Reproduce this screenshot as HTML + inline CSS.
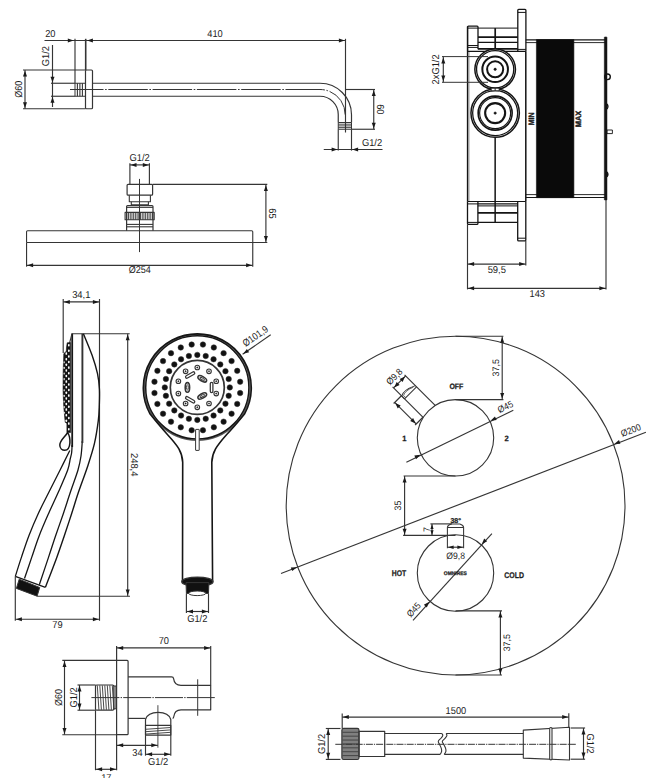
<!DOCTYPE html>
<html lang="en"><head><meta charset="utf-8"><title>Technical drawing</title>
<style>
html,body{margin:0;padding:0;background:#fff;}
body{width:652px;height:778px;overflow:hidden;}
svg{display:block;font-family:"Liberation Sans",sans-serif;text-rendering:geometricPrecision;}
text{fill:#1c1c1c;stroke:none}
text.b{font-weight:bold;stroke:#1c1c1c;stroke-width:.25px}
</style></head><body>
<svg width="652" height="778" viewBox="0 0 652 778" fill="none" stroke="#353535" stroke-linecap="butt" stroke-linejoin="round">
<rect x="0" y="0" width="652" height="778" fill="#fff" stroke="none"/>
<g>
<!-- shower arm -->
<line x1="44.5" y1="40.5" x2="345.5" y2="40.5" stroke-width="1.15"/>
<polygon points="73.6,40.5 67.8,42.5 67.8,38.5" fill="#1a1a1a" stroke="none"/>
<polygon points="87.1,40.5 92.9,38.5 92.9,42.5" fill="#1a1a1a" stroke="none"/>
<polygon points="344.7,40.5 338.9,42.5 338.9,38.5" fill="#1a1a1a" stroke="none"/>
<line x1="75" y1="38.8" x2="75" y2="83.2" stroke-width="1.15"/>
<line x1="85.7" y1="38.8" x2="85.7" y2="70" stroke-width="1.6"/>
<line x1="345.5" y1="38.8" x2="345.5" y2="132.5" stroke-width="1.15"/>
<text transform="translate(50.3 33.6)" y="3.6" font-size="10" text-anchor="middle" textLength="10.32" lengthAdjust="spacingAndGlyphs">20</text>
<text transform="translate(215 33.6)" y="3.6" font-size="10" text-anchor="middle" textLength="15.48" lengthAdjust="spacingAndGlyphs">410</text>
<rect x="85.5" y="70" width="7" height="38.75" rx="1" stroke-width="1.2" fill="none"/>
<rect x="75" y="83.25" width="10.5" height="13" rx="0" stroke-width="1" fill="none"/>
<line x1="77.4" y1="83.25" x2="77.4" y2="96.25" stroke-width="1.1"/>
<line x1="79.9" y1="83.25" x2="79.9" y2="96.25" stroke-width="1.1"/>
<line x1="82.4" y1="83.25" x2="82.4" y2="96.25" stroke-width="1.1"/>
<path d="M92.5 83.25H320A31.5 31.5 0 0 1 351.5 114.75V122.5" stroke-width="1.2" fill="none"/>
<path d="M92.5 96.25H320A18.25 18.25 0 0 1 338.25 114.5V122.5" stroke-width="1.2" fill="none"/>
<rect x="338.25" y="122.5" width="13.25" height="6.75" rx="0" stroke-width="1" fill="none"/>
<line x1="338.25" y1="124.2" x2="351.5" y2="124.2" stroke-width="0.9"/>
<line x1="338.25" y1="125.9" x2="351.5" y2="125.9" stroke-width="0.9"/>
<line x1="338.25" y1="127.6" x2="351.5" y2="127.6" stroke-width="0.9"/>
<path d="M70 89.5H320A25.2 25.2 0 0 1 345.2 114.7" stroke-width="1" fill="none" stroke-dasharray="39.5 1.6 1.6 1.6" stroke-dashoffset="6"/>
<line x1="345.5" y1="89.5" x2="375" y2="89.5" stroke-width="1.15"/>
<line x1="373.75" y1="89.5" x2="373.75" y2="129.25" stroke-width="1.15"/>
<polygon points="373.75,90.3 375.75,96.1 371.75,96.1" fill="#1a1a1a" stroke="none"/>
<polygon points="373.75,128.45 371.75,122.65 375.75,122.65" fill="#1a1a1a" stroke="none"/>
<line x1="351.5" y1="129.25" x2="375" y2="129.25" stroke-width="1.15"/>
<text transform="translate(380.7 109.3) rotate(90)" y="3.6" font-size="10" text-anchor="middle" textLength="10.32" lengthAdjust="spacingAndGlyphs">60</text>
<line x1="338.25" y1="129.25" x2="338.25" y2="150.6" stroke-width="1.15"/>
<line x1="351.5" y1="129.25" x2="351.5" y2="150.6" stroke-width="1.15"/>
<line x1="323.75" y1="149.5" x2="382.5" y2="149.5" stroke-width="1.15"/>
<polygon points="337.45,149.5 331.65,151.5 331.65,147.5" fill="#1a1a1a" stroke="none"/>
<polygon points="352.3,149.5 358.1,147.5 358.1,151.5" fill="#1a1a1a" stroke="none"/>
<text x="372" y="145.7" font-size="10" text-anchor="middle" textLength="20.23" lengthAdjust="spacingAndGlyphs">G1/2</text>
<line x1="23" y1="70" x2="85.5" y2="70" stroke-width="1.15"/>
<line x1="23" y1="108.75" x2="85.5" y2="108.75" stroke-width="1.15"/>
<line x1="25" y1="70" x2="25" y2="108.75" stroke-width="1.15"/>
<polygon points="25,70.8 27,76.6 23,76.6" fill="#1a1a1a" stroke="none"/>
<polygon points="25,107.95 23,102.15 27,102.15" fill="#1a1a1a" stroke="none"/>
<text transform="translate(18 89.3) rotate(-90)" y="3.6" font-size="10" text-anchor="middle" textLength="17.01" lengthAdjust="spacingAndGlyphs">Ø60</text>
<line x1="52.5" y1="45" x2="52.5" y2="107" stroke-width="1.15"/>
<polygon points="52.5,82.45 50.5,76.65 54.5,76.65" fill="#1a1a1a" stroke="none"/>
<polygon points="52.5,97.05 54.5,102.85 50.5,102.85" fill="#1a1a1a" stroke="none"/>
<line x1="51" y1="83.25" x2="75" y2="83.25" stroke-width="1.15"/>
<line x1="51" y1="96.25" x2="75" y2="96.25" stroke-width="1.15"/>
<text transform="translate(45.7 56.2) rotate(-90)" y="3.6" font-size="10" text-anchor="middle" textLength="20.23" lengthAdjust="spacingAndGlyphs">G1/2</text>
<!-- rain head -->
<text x="139.6" y="160.6" font-size="10" text-anchor="middle" textLength="20.23" lengthAdjust="spacingAndGlyphs">G1/2</text>
<line x1="129.9" y1="163.3" x2="129.9" y2="184.3" stroke-width="1.15"/>
<line x1="149.4" y1="163.3" x2="149.4" y2="184.3" stroke-width="1.15"/>
<line x1="129.9" y1="164.9" x2="149.4" y2="164.9" stroke-width="1.15"/>
<polygon points="130.7,164.9 136.5,162.9 136.5,166.9" fill="#1a1a1a" stroke="none"/>
<polygon points="148.6,164.9 142.8,166.9 142.8,162.9" fill="#1a1a1a" stroke="none"/>
<rect x="127.1" y="184.3" width="25.5" height="10.9" rx="1" stroke-width="1.2" fill="none"/>
<path d="M129.3 195.2V201.8H150.4V195.2" stroke-width="1.1" fill="none"/>
<path d="M131.3 201.8V204.8H148.4V201.8" stroke-width="1.1" fill="none"/>
<path d="M126.6 230.7V206.6Q126.6 205.6 127.6 205.6H152Q153 205.6 153 206.6V230.7" stroke-width="1.2" fill="none"/>
<line x1="126.6" y1="207.4" x2="153" y2="207.4" stroke-width="1"/>
<rect x="125.1" y="212.4" width="29.1" height="7.4" rx="0" stroke-width="1.1" fill="none"/>
<line x1="126.81" y1="212.4" x2="126.81" y2="219.8" stroke-width="0.9"/>
<line x1="128.52" y1="212.4" x2="128.52" y2="219.8" stroke-width="0.9"/>
<line x1="130.24" y1="212.4" x2="130.24" y2="219.8" stroke-width="0.9"/>
<line x1="131.95" y1="212.4" x2="131.95" y2="219.8" stroke-width="0.9"/>
<line x1="133.66" y1="212.4" x2="133.66" y2="219.8" stroke-width="0.9"/>
<line x1="135.37" y1="212.4" x2="135.37" y2="219.8" stroke-width="0.9"/>
<line x1="137.08" y1="212.4" x2="137.08" y2="219.8" stroke-width="0.9"/>
<line x1="138.79" y1="212.4" x2="138.79" y2="219.8" stroke-width="0.9"/>
<line x1="140.51" y1="212.4" x2="140.51" y2="219.8" stroke-width="0.9"/>
<line x1="142.22" y1="212.4" x2="142.22" y2="219.8" stroke-width="0.9"/>
<line x1="143.93" y1="212.4" x2="143.93" y2="219.8" stroke-width="0.9"/>
<line x1="145.64" y1="212.4" x2="145.64" y2="219.8" stroke-width="0.9"/>
<line x1="147.35" y1="212.4" x2="147.35" y2="219.8" stroke-width="0.9"/>
<line x1="149.06" y1="212.4" x2="149.06" y2="219.8" stroke-width="0.9"/>
<line x1="150.78" y1="212.4" x2="150.78" y2="219.8" stroke-width="0.9"/>
<line x1="152.49" y1="212.4" x2="152.49" y2="219.8" stroke-width="0.9"/>
<line x1="126.6" y1="224.4" x2="153" y2="224.4" stroke-width="1.1"/>
<line x1="126.6" y1="226.8" x2="153" y2="226.8" stroke-width="1.1"/>
<line x1="139.5" y1="178.9" x2="139.5" y2="252.1" stroke-width="1"/>
<path d="M26.55 242.5V231.8Q26.55 230.7 27.6 230.7H251.7Q252.75 230.7 252.75 231.8V242.5" stroke-width="1.1" fill="none"/>
<line x1="26.55" y1="242.5" x2="267.3" y2="242.5" stroke-width="1.1"/>
<line x1="152.6" y1="184.4" x2="267.3" y2="184.4" stroke-width="1.15"/>
<line x1="265.9" y1="184.4" x2="265.9" y2="242.5" stroke-width="1.15"/>
<polygon points="265.9,185.2 267.9,191 263.9,191" fill="#1a1a1a" stroke="none"/>
<polygon points="265.9,241.7 263.9,235.9 267.9,235.9" fill="#1a1a1a" stroke="none"/>
<text transform="translate(273.1 213.5) rotate(90)" y="3.6" font-size="10" text-anchor="middle" textLength="10.32" lengthAdjust="spacingAndGlyphs">65</text>
<line x1="26.55" y1="242.5" x2="26.55" y2="266.7" stroke-width="1.15"/>
<line x1="252.75" y1="242.5" x2="252.75" y2="266.7" stroke-width="1.15"/>
<line x1="26.55" y1="265.3" x2="252.75" y2="265.3" stroke-width="1.15"/>
<polygon points="27.35,265.3 33.15,263.3 33.15,267.3" fill="#1a1a1a" stroke="none"/>
<polygon points="251.95,265.3 246.15,267.3 246.15,263.3" fill="#1a1a1a" stroke="none"/>
<text x="139.8" y="273.2" font-size="10" text-anchor="middle" textLength="22.17" lengthAdjust="spacingAndGlyphs">Ø254</text>
<!-- valve body -->
<g stroke="#141414">
<path d="M517.8 51.5V10.2Q517.8 9.3 518.7 9.3H525Q525.9 9.3 525.9 10.2V51.5" stroke-width="1.3" fill="none"/>
<line x1="517.8" y1="12.4" x2="525.9" y2="12.4" stroke-width="1"/>
<line x1="517.8" y1="49.4" x2="525.9" y2="49.4" stroke-width="1"/>
<path d="M467.6 51.4V27.1Q467.6 26.2 468.5 26.2H477.1Q478 26.2 478 27.1V49.2" stroke-width="1.3" fill="none"/>
<line x1="467.6" y1="28.1" x2="478" y2="28.1" stroke-width="1"/>
<line x1="467.6" y1="45.5" x2="478" y2="45.5" stroke-width="1"/>
<line x1="467.6" y1="47.4" x2="478" y2="47.4" stroke-width="1"/>
<line x1="478" y1="28.1" x2="517.8" y2="28.1" stroke-width="1"/>
<line x1="478" y1="37.1" x2="517.8" y2="37.1" stroke-width="1.7"/>
<line x1="478" y1="42.4" x2="517.8" y2="42.4" stroke-width="1.2"/>
<line x1="478" y1="48.9" x2="517.8" y2="48.9" stroke-width="1.8"/>
<line x1="495.2" y1="28.1" x2="495.2" y2="49.4" stroke-width="1.7"/>
<line x1="467.6" y1="51.4" x2="525.9" y2="51.4" stroke-width="1.2"/>
<line x1="467.5" y1="26.4" x2="467.5" y2="201.5" stroke-width="1.3"/>
<line x1="468.9" y1="51.4" x2="468.9" y2="201.5" stroke-width="0.5"/>
<line x1="525.8" y1="51.4" x2="525.8" y2="201.5" stroke-width="1.5"/>
<circle cx="495.15" cy="69.3" r="20.3" stroke-width="1.5" fill="#fff"/>
<circle cx="495.15" cy="69.3" r="18.6" stroke-width="1.3" fill="none"/>
<line x1="442" y1="56.6" x2="488" y2="56.6" stroke-width="1" stroke="#353535"/>
<line x1="442" y1="82.3" x2="488" y2="82.3" stroke-width="1" stroke="#353535"/>
<circle cx="495.15" cy="69.3" r="12.8" stroke-width="2" fill="none"/>
<circle cx="495.15" cy="69.3" r="8.05" stroke-width="2" fill="none"/>
<circle cx="495.15" cy="69.3" r="1.2" stroke-width="0.5" fill="#141414"/>
<circle cx="495.15" cy="113.1" r="24.2" stroke-width="1.5" fill="#fff"/>
<circle cx="495.15" cy="113.1" r="22.5" stroke-width="1.3" fill="none"/>
<circle cx="495.15" cy="113.1" r="17" stroke-width="1.6" fill="none"/>
<circle cx="495.15" cy="113.1" r="15.5" stroke-width="1.1" fill="none"/>
<circle cx="495.15" cy="113.1" r="10" stroke-width="2.1" fill="none"/>
<circle cx="495.15" cy="113.1" r="1.2" stroke-width="0.5" fill="#141414"/>
<rect x="491.2" y="88.2" width="8" height="2.6" rx="0" stroke-width="0.9" fill="#fff"/>
<line x1="495.15" y1="88.2" x2="495.15" y2="90.8" stroke-width="0.9"/>
<line x1="495.15" y1="137.4" x2="495.15" y2="222.3" stroke-width="1.5"/>
</g>
<line x1="443.3" y1="56.6" x2="443.3" y2="82.3" stroke-width="1.15"/>
<polygon points="443.3,57.6 445.3,63.4 441.3,63.4" fill="#1a1a1a" stroke="none"/>
<polygon points="443.3,81.3 441.3,75.5 445.3,75.5" fill="#1a1a1a" stroke="none"/>
<text transform="translate(435.7 69.4) rotate(-90)" y="3.6" font-size="10" text-anchor="middle" textLength="30.07" lengthAdjust="spacingAndGlyphs">2xG1/2</text>
<g stroke="#141414">
<line x1="525.8" y1="39.9" x2="605" y2="39.9" stroke-width="1.2"/>
<line x1="525.8" y1="42.6" x2="605" y2="42.6" stroke-width="0.9"/>
<line x1="525.8" y1="194.6" x2="605" y2="194.6" stroke-width="0.9"/>
<line x1="525.8" y1="197.5" x2="605" y2="197.5" stroke-width="1.2"/>
<rect x="536.4" y="39.5" width="37.5" height="158.2" rx="0" stroke-width="0.6" fill="#0a0a0a"/>
<rect x="604.3" y="36.9" width="2.7" height="163.2" rx="0.6" stroke-width="0.5" fill="#141414"/>
<circle cx="607.5" cy="76.8" r="2.8" stroke-width="1.4" fill="none"/>
<path d="M607 104Q608.8 106.5 607 109" stroke-width="1.4" fill="none"/>
<path d="M607 171.8Q608.8 174.3 607 176.8" stroke-width="1.4" fill="none"/>
<rect x="607" y="130" width="5.4" height="3.6" rx="0" stroke-width="0.9" fill="none"/>
<line x1="467.5" y1="201.5" x2="525.8" y2="201.5" stroke-width="1.2"/>
<path d="M467.5 201.5V223.4Q467.5 224.3 468.5 224.3H476.9Q477.9 224.3 477.9 223.4V201.5" stroke-width="1.3" fill="none"/>
<line x1="467.5" y1="203.9" x2="477.9" y2="203.9" stroke-width="1"/>
<line x1="467.5" y1="222.4" x2="477.9" y2="222.4" stroke-width="1"/>
<line x1="477.9" y1="203.9" x2="517.7" y2="203.9" stroke-width="1.4"/>
<line x1="477.9" y1="205.9" x2="517.7" y2="205.9" stroke-width="1"/>
<line x1="477.9" y1="212.9" x2="517.7" y2="212.9" stroke-width="1.7"/>
<line x1="477.9" y1="222.3" x2="517.7" y2="222.3" stroke-width="1.3"/>
<path d="M517.7 201.5V239.9Q517.7 240.8 518.7 240.8H524.8Q525.8 240.8 525.8 239.9V201.5" stroke-width="1.3" fill="none"/>
<line x1="517.7" y1="238.2" x2="525.8" y2="238.2" stroke-width="1"/>
</g>
<text transform="translate(531.2 118.9) rotate(-90)" y="2.81" font-size="7.8" text-anchor="middle" class="b" style="stroke-width:.4px" textLength="12.8" lengthAdjust="spacingAndGlyphs">MIN</text>
<text transform="translate(578.5 119) rotate(-90)" y="2.81" font-size="7.8" text-anchor="middle" class="b" style="stroke-width:.4px" textLength="16.6" lengthAdjust="spacingAndGlyphs">MAX</text>
<line x1="467.5" y1="224.3" x2="467.5" y2="289.4" stroke-width="1.15"/>
<line x1="525.8" y1="240.8" x2="525.8" y2="265.4" stroke-width="1.15"/>
<line x1="606" y1="200" x2="606" y2="289.4" stroke-width="1.15"/>
<line x1="467.5" y1="264.1" x2="525.8" y2="264.1" stroke-width="1.15"/>
<polygon points="468.3,264.1 474.1,262.1 474.1,266.1" fill="#1a1a1a" stroke="none"/>
<polygon points="525,264.1 519.2,266.1 519.2,262.1" fill="#1a1a1a" stroke="none"/>
<text x="496.8" y="272.8" font-size="10" text-anchor="middle" textLength="18.34" lengthAdjust="spacingAndGlyphs">59,5</text>
<line x1="467.5" y1="288.3" x2="606" y2="288.3" stroke-width="1.15"/>
<polygon points="468.3,288.3 474.1,286.3 474.1,290.3" fill="#1a1a1a" stroke="none"/>
<polygon points="605.2,288.3 599.4,290.3 599.4,286.3" fill="#1a1a1a" stroke="none"/>
<text x="537.3" y="296.7" font-size="10" text-anchor="middle" textLength="15.48" lengthAdjust="spacingAndGlyphs">143</text>
<!-- hand shower side -->
<text x="81.3" y="298" font-size="10" text-anchor="middle" textLength="18.34" lengthAdjust="spacingAndGlyphs">34,1</text>
<line x1="63.2" y1="299" x2="63.2" y2="353" stroke-width="1.15"/>
<line x1="99.5" y1="299" x2="99.5" y2="620.7" stroke-width="1.15"/>
<line x1="63.2" y1="301.9" x2="99.5" y2="301.9" stroke-width="1.15"/>
<polygon points="64,301.9 69.8,299.9 69.8,303.9" fill="#1a1a1a" stroke="none"/>
<polygon points="98.7,301.9 92.9,303.9 92.9,299.9" fill="#1a1a1a" stroke="none"/>
<line x1="71.7" y1="333.7" x2="129.7" y2="333.7" stroke-width="1.1"/>
<line x1="127.7" y1="333.7" x2="127.7" y2="596.2" stroke-width="1.15"/>
<polygon points="127.7,334.5 129.7,340.3 125.7,340.3" fill="#1a1a1a" stroke="none"/>
<polygon points="127.7,595.4 125.7,589.6 129.7,589.6" fill="#1a1a1a" stroke="none"/>
<line x1="37.1" y1="596.2" x2="130" y2="596.2" stroke-width="1.15"/>
<text transform="translate(134.3 464.7) rotate(90)" y="3.6" font-size="10" text-anchor="middle" textLength="23.5" lengthAdjust="spacingAndGlyphs">248,4</text>
<path d="M72.1 445C72.02 446.33 71.92 450.67 71.6 453C71.28 455.33 70.85 456.17 70.2 459C69.55 461.83 69.65 464.53 67.7 470C65.75 475.47 61.7 484.52 58.5 491.8C55.3 499.08 51.7 506.42 48.5 513.7C45.3 520.98 42.1 528.22 39.3 535.5C36.5 542.78 34.17 550.23 31.7 557.4C29.23 564.57 25.7 574.98 24.5 578.5" stroke-width="1.3" fill="none" stroke="#161616"/>
<line x1="72.2" y1="333.7" x2="72.2" y2="447" stroke-width="1.8" stroke="#161616"/>
<path d="M72 333.7L69.6 343" stroke-width="1.1" fill="none"/>
<path d="M69.8 450.5C68.18 453.75 63.55 463.12 60.1 470C56.65 476.88 52.75 484.52 49.1 491.8C45.45 499.08 41.55 506.42 38.2 513.7C34.85 520.98 31.8 528.22 29 535.5C26.2 542.78 23.68 550.58 21.4 557.4C19.12 564.22 16.32 573.23 15.3 576.4" stroke-width="1.3" fill="none" stroke="#161616"/>
<path d="M82.3 441C82.08 443.5 81.72 451.17 81 456C80.28 460.83 79.75 464.03 78 470C76.25 475.97 72.95 484.52 70.5 491.8C68.05 499.08 65.77 506.42 63.3 513.7C60.83 520.98 58.17 528.22 55.7 535.5C53.23 542.78 51.23 549.2 48.5 557.4C45.77 565.6 40.83 580.15 39.3 584.7" stroke-width="1.3" fill="none" stroke="#161616"/>
<line x1="82.4" y1="333.7" x2="82.4" y2="443" stroke-width="1.9" stroke="#333"/>
<path d="M83.4 333.7C84.85 337.3 89.75 348.63 92.1 355.3C94.45 361.97 96.28 368.08 97.5 373.7C98.72 379.32 99.1 383.73 99.4 389C99.7 394.27 99.48 400.02 99.3 405.3C99.12 410.58 99.12 414.3 98.3 420.7C97.48 427.1 96.2 436.03 94.4 443.7C92.6 451.37 90.13 458.68 87.5 466.7C84.87 474.72 81.25 483.97 78.6 491.8C75.95 499.63 73.97 506.42 71.6 513.7C69.23 520.98 66.87 528.22 64.4 535.5C61.93 542.78 59.97 548.77 56.8 557.4C53.63 566.03 47.3 582.32 45.4 587.3" stroke-width="1.4" fill="none" stroke="#161616"/>
<path d="M15.3 576.4L45.4 587.3" stroke-width="1.3" fill="none" stroke="#161616"/>
<path d="M19.2 579.2L39.7 587.5L37.1 596.2L16.4 588.4Z" stroke-width="1" fill="#111"/>
<path d="M67.6 432.6C65 437 59.8 440.5 59.8 445C59.8 448.4 62.3 450.3 64.8 450.3C67.8 450.3 69.6 447 69.9 443C70.1 439 69.4 435 67.6 432.6Z" stroke-width="1.5" fill="none" stroke="#161616"/>
<path d="M70.6 342.6L67.2 342.8Q66.4 347 66.3 351.2L63.8 353.6Q62.9 372 63 390Q63.4 408 65.2 422.3L66.9 423.4V432.6H70.6Z" stroke-width="0.6" fill="#151515" stroke="#151515"/>
<g fill="#fff" stroke="none">
<rect x="68" y="343.95" width="1.6" height="2.5" rx="0.7"/>
<rect x="68" y="349.55" width="1.6" height="2.5" rx="0.7"/>
<rect x="65.5" y="352.35" width="1.6" height="2.5" rx="0.7"/>
<rect x="68" y="355.15" width="1.6" height="2.5" rx="0.7"/>
<rect x="65.5" y="357.95" width="1.6" height="2.5" rx="0.7"/>
<rect x="68" y="360.75" width="1.6" height="2.5" rx="0.7"/>
<rect x="65.5" y="363.55" width="1.6" height="2.5" rx="0.7"/>
<rect x="63.6" y="361.25" width="1.1" height="2.1" rx="0.5"/>
<rect x="68" y="366.35" width="1.6" height="2.5" rx="0.7"/>
<rect x="65.5" y="369.15" width="1.6" height="2.5" rx="0.7"/>
<rect x="63.6" y="366.85" width="1.1" height="2.1" rx="0.5"/>
<rect x="68" y="371.95" width="1.6" height="2.5" rx="0.7"/>
<rect x="65.5" y="374.75" width="1.6" height="2.5" rx="0.7"/>
<rect x="63.6" y="372.45" width="1.1" height="2.1" rx="0.5"/>
<rect x="68" y="377.55" width="1.6" height="2.5" rx="0.7"/>
<rect x="65.5" y="380.35" width="1.6" height="2.5" rx="0.7"/>
<rect x="63.6" y="378.05" width="1.1" height="2.1" rx="0.5"/>
<rect x="68" y="383.15" width="1.6" height="2.5" rx="0.7"/>
<rect x="65.5" y="385.95" width="1.6" height="2.5" rx="0.7"/>
<rect x="63.6" y="383.65" width="1.1" height="2.1" rx="0.5"/>
<rect x="68" y="388.75" width="1.6" height="2.5" rx="0.7"/>
<rect x="65.5" y="391.55" width="1.6" height="2.5" rx="0.7"/>
<rect x="63.6" y="389.25" width="1.1" height="2.1" rx="0.5"/>
<rect x="68" y="394.35" width="1.6" height="2.5" rx="0.7"/>
<rect x="65.5" y="397.15" width="1.6" height="2.5" rx="0.7"/>
<rect x="63.6" y="394.85" width="1.1" height="2.1" rx="0.5"/>
<rect x="68" y="399.95" width="1.6" height="2.5" rx="0.7"/>
<rect x="65.5" y="402.75" width="1.6" height="2.5" rx="0.7"/>
<rect x="63.6" y="400.45" width="1.1" height="2.1" rx="0.5"/>
<rect x="68" y="405.55" width="1.6" height="2.5" rx="0.7"/>
<rect x="65.5" y="408.35" width="1.6" height="2.5" rx="0.7"/>
<rect x="63.6" y="406.05" width="1.1" height="2.1" rx="0.5"/>
<rect x="68" y="411.15" width="1.6" height="2.5" rx="0.7"/>
<rect x="65.5" y="413.95" width="1.6" height="2.5" rx="0.7"/>
<rect x="63.6" y="411.65" width="1.1" height="2.1" rx="0.5"/>
<rect x="68" y="416.75" width="1.6" height="2.5" rx="0.7"/>
<rect x="65.5" y="419.55" width="1.6" height="2.5" rx="0.7"/>
<rect x="68" y="422.35" width="1.6" height="2.5" rx="0.7"/>
<rect x="68" y="427.95" width="1.6" height="2.5" rx="0.7"/>
</g>
<line x1="15.3" y1="576.4" x2="15.3" y2="620.7" stroke-width="1.15"/>
<line x1="15.3" y1="619.2" x2="99.5" y2="619.2" stroke-width="1.15"/>
<polygon points="16.1,619.2 21.9,617.2 21.9,621.2" fill="#1a1a1a" stroke="none"/>
<polygon points="98.7,619.2 92.9,621.2 92.9,617.2" fill="#1a1a1a" stroke="none"/>
<text x="57.4" y="627.8" font-size="10" text-anchor="middle" textLength="10.32" lengthAdjust="spacingAndGlyphs">79</text>
<!-- hand shower front -->
<circle cx="197.3" cy="387.4" r="52.85" stroke-width="1.5" fill="none" stroke="#5a5a5a"/>
<path d="M182.5 581.7L182.7 462.3C182.3 452 178 446 167.6 434.7C160 426.5 154.5 419.5 150.1 414.1A54 54 0 1 1 244.5 414.1C240 419.5 234.5 426.5 226.5 434.7C216.5 446 212.2 452 211.8 462.3L212.6 581.7" stroke-width="1.6" fill="none" stroke="#161616"/>
<circle cx="197.3" cy="387.4" r="51.6" stroke-width="1.5" fill="none" stroke="#161616"/>
<circle cx="197.3" cy="387.4" r="27" stroke-width="1.7" fill="none"/>
<circle cx="240.13" cy="393.04" r="2.75" stroke-width="0.5" fill="#111"/>
<circle cx="229.8" cy="387.4" r="2.75" stroke-width="0.5" fill="#111"/>
<circle cx="237.21" cy="403.93" r="2.75" stroke-width="0.5" fill="#111"/>
<circle cx="228.69" cy="395.81" r="2.75" stroke-width="0.5" fill="#111"/>
<circle cx="231.57" cy="413.7" r="2.75" stroke-width="0.5" fill="#111"/>
<circle cx="225.45" cy="403.65" r="2.75" stroke-width="0.5" fill="#111"/>
<circle cx="223.6" cy="421.67" r="2.75" stroke-width="0.5" fill="#111"/>
<circle cx="220.28" cy="410.38" r="2.75" stroke-width="0.5" fill="#111"/>
<circle cx="213.83" cy="427.31" r="2.75" stroke-width="0.5" fill="#111"/>
<circle cx="213.55" cy="415.55" r="2.75" stroke-width="0.5" fill="#111"/>
<circle cx="202.94" cy="430.23" r="2.75" stroke-width="0.5" fill="#111"/>
<circle cx="205.71" cy="418.79" r="2.75" stroke-width="0.5" fill="#111"/>
<circle cx="191.66" cy="430.23" r="2.75" stroke-width="0.5" fill="#111"/>
<circle cx="197.3" cy="419.9" r="2.75" stroke-width="0.5" fill="#111"/>
<circle cx="180.77" cy="427.31" r="2.75" stroke-width="0.5" fill="#111"/>
<circle cx="188.89" cy="418.79" r="2.75" stroke-width="0.5" fill="#111"/>
<circle cx="171" cy="421.67" r="2.75" stroke-width="0.5" fill="#111"/>
<circle cx="181.05" cy="415.55" r="2.75" stroke-width="0.5" fill="#111"/>
<circle cx="163.03" cy="413.7" r="2.75" stroke-width="0.5" fill="#111"/>
<circle cx="174.32" cy="410.38" r="2.75" stroke-width="0.5" fill="#111"/>
<circle cx="157.39" cy="403.93" r="2.75" stroke-width="0.5" fill="#111"/>
<circle cx="169.15" cy="403.65" r="2.75" stroke-width="0.5" fill="#111"/>
<circle cx="154.47" cy="393.04" r="2.75" stroke-width="0.5" fill="#111"/>
<circle cx="165.91" cy="395.81" r="2.75" stroke-width="0.5" fill="#111"/>
<circle cx="154.47" cy="381.76" r="2.75" stroke-width="0.5" fill="#111"/>
<circle cx="164.8" cy="387.4" r="2.75" stroke-width="0.5" fill="#111"/>
<circle cx="157.39" cy="370.87" r="2.75" stroke-width="0.5" fill="#111"/>
<circle cx="165.91" cy="378.99" r="2.75" stroke-width="0.5" fill="#111"/>
<circle cx="163.03" cy="361.1" r="2.75" stroke-width="0.5" fill="#111"/>
<circle cx="169.15" cy="371.15" r="2.75" stroke-width="0.5" fill="#111"/>
<circle cx="171" cy="353.13" r="2.75" stroke-width="0.5" fill="#111"/>
<circle cx="174.32" cy="364.42" r="2.75" stroke-width="0.5" fill="#111"/>
<circle cx="180.77" cy="347.49" r="2.75" stroke-width="0.5" fill="#111"/>
<circle cx="181.05" cy="359.25" r="2.75" stroke-width="0.5" fill="#111"/>
<circle cx="191.66" cy="344.57" r="2.75" stroke-width="0.5" fill="#111"/>
<circle cx="188.89" cy="356.01" r="2.75" stroke-width="0.5" fill="#111"/>
<circle cx="202.94" cy="344.57" r="2.75" stroke-width="0.5" fill="#111"/>
<circle cx="197.3" cy="354.9" r="2.75" stroke-width="0.5" fill="#111"/>
<circle cx="213.83" cy="347.49" r="2.75" stroke-width="0.5" fill="#111"/>
<circle cx="205.71" cy="356.01" r="2.75" stroke-width="0.5" fill="#111"/>
<circle cx="223.6" cy="353.13" r="2.75" stroke-width="0.5" fill="#111"/>
<circle cx="213.55" cy="359.25" r="2.75" stroke-width="0.5" fill="#111"/>
<circle cx="231.57" cy="361.1" r="2.75" stroke-width="0.5" fill="#111"/>
<circle cx="220.28" cy="364.42" r="2.75" stroke-width="0.5" fill="#111"/>
<circle cx="237.21" cy="370.87" r="2.75" stroke-width="0.5" fill="#111"/>
<circle cx="225.45" cy="371.15" r="2.75" stroke-width="0.5" fill="#111"/>
<circle cx="240.13" cy="381.76" r="2.75" stroke-width="0.5" fill="#111"/>
<circle cx="228.69" cy="378.99" r="2.75" stroke-width="0.5" fill="#111"/>
<circle cx="197.3" cy="367.5" r="2.3" stroke-width="1.1" fill="none"/>
<circle cx="197.3" cy="367.5" r="0.7" stroke-width="0.4" fill="#111"/>
<circle cx="209" cy="371.3" r="2.3" stroke-width="1.1" fill="none"/>
<circle cx="209" cy="371.3" r="0.7" stroke-width="0.4" fill="#111"/>
<circle cx="216.23" cy="381.25" r="2.3" stroke-width="1.1" fill="none"/>
<circle cx="216.23" cy="381.25" r="0.7" stroke-width="0.4" fill="#111"/>
<circle cx="216.23" cy="393.55" r="2.3" stroke-width="1.1" fill="none"/>
<circle cx="216.23" cy="393.55" r="0.7" stroke-width="0.4" fill="#111"/>
<circle cx="209" cy="403.5" r="2.3" stroke-width="1.1" fill="none"/>
<circle cx="209" cy="403.5" r="0.7" stroke-width="0.4" fill="#111"/>
<circle cx="197.3" cy="407.3" r="2.3" stroke-width="1.1" fill="none"/>
<circle cx="197.3" cy="407.3" r="0.7" stroke-width="0.4" fill="#111"/>
<circle cx="185.6" cy="403.5" r="2.3" stroke-width="1.1" fill="none"/>
<circle cx="185.6" cy="403.5" r="0.7" stroke-width="0.4" fill="#111"/>
<circle cx="178.37" cy="393.55" r="2.3" stroke-width="1.1" fill="none"/>
<circle cx="178.37" cy="393.55" r="0.7" stroke-width="0.4" fill="#111"/>
<circle cx="178.37" cy="381.25" r="2.3" stroke-width="1.1" fill="none"/>
<circle cx="178.37" cy="381.25" r="0.7" stroke-width="0.4" fill="#111"/>
<circle cx="185.6" cy="371.3" r="2.3" stroke-width="1.1" fill="none"/>
<circle cx="185.6" cy="371.3" r="0.7" stroke-width="0.4" fill="#111"/>
<ellipse cx="202.25" cy="378.83" rx="2.2" ry="4.8" stroke-width="1.6" fill="#fff" transform="rotate(-60 202.25 378.83)"/>
<ellipse cx="202.25" cy="378.83" rx="0.9" ry="2.6" stroke-width="0.9" fill="none" transform="rotate(-60 202.25 378.83)"/>
<ellipse cx="202.25" cy="395.97" rx="2.2" ry="4.8" stroke-width="1.6" fill="#fff" transform="rotate(60 202.25 395.97)"/>
<ellipse cx="202.25" cy="395.97" rx="0.9" ry="2.6" stroke-width="0.9" fill="none" transform="rotate(60 202.25 395.97)"/>
<ellipse cx="187.4" cy="387.4" rx="2.2" ry="4.8" stroke-width="1.6" fill="#fff" transform="rotate(180 187.4 387.4)"/>
<ellipse cx="187.4" cy="387.4" rx="0.9" ry="2.6" stroke-width="0.9" fill="none" transform="rotate(180 187.4 387.4)"/>
<rect x="210.3" y="382.3" width="2.6" height="10.2" rx="1.3" stroke-width="1.25" fill="#fff" transform="rotate(0 211.6 387.4)"/>
<rect x="188.85" y="394.68" width="2.6" height="10.2" rx="1.3" stroke-width="1.25" fill="#fff" transform="rotate(120 190.15 399.78)"/>
<rect x="188.85" y="369.92" width="2.6" height="10.2" rx="1.3" stroke-width="1.25" fill="#fff" transform="rotate(240 190.15 375.02)"/>
<rect x="195.6" y="429.4" width="3.6" height="21" rx="0.3" stroke-width="1" fill="#fff"/>
<ellipse cx="197.4" cy="581.7" rx="15.6" ry="4.6" stroke-width="1.4" fill="#111"/>
<path d="M186 582.6L186.4 593.4H208.5L208.9 582.6Z" stroke-width="1" fill="#111"/>
<ellipse cx="197.2" cy="593.3" rx="8.6" ry="2.3" stroke-width="1" fill="#fff"/>
<line x1="186.4" y1="593.5" x2="186.4" y2="613" stroke-width="1.15"/>
<line x1="208.5" y1="593.5" x2="208.5" y2="613" stroke-width="1.15"/>
<line x1="186.4" y1="611.5" x2="208.5" y2="611.5" stroke-width="1.15"/>
<polygon points="187.2,611.5 193,609.5 193,613.5" fill="#1a1a1a" stroke="none"/>
<polygon points="207.7,611.5 201.9,613.5 201.9,609.5" fill="#1a1a1a" stroke="none"/>
<text x="197.3" y="621.8" font-size="10" text-anchor="middle" textLength="20.23" lengthAdjust="spacingAndGlyphs">G1/2</text>
<line x1="242.6" y1="354.3" x2="270.7" y2="334.8" stroke-width="1.15"/>
<polygon points="243.26,353.84 246.88,348.89 249.16,352.18" fill="#1a1a1a" stroke="none"/>
<text transform="translate(255.2 336) rotate(-34.8)" y="3.6" font-size="10" text-anchor="middle" textLength="28.6" lengthAdjust="spacingAndGlyphs">Ø101,9</text>
<!-- control plate -->
<circle cx="455.6" cy="505.6" r="169.4" stroke-width="1.1" fill="none"/>
<circle cx="455.5" cy="437.8" r="38.2" stroke-width="1.1" fill="none"/>
<circle cx="455.5" cy="573" r="38.2" stroke-width="1.1" fill="none"/>
<line x1="281" y1="573.5" x2="645.9" y2="432.2" stroke-width="1.15"/>
<polygon points="296.92,567.15 292.23,571.11 290.79,567.38" fill="#1a1a1a" stroke="none"/>
<polygon points="614.28,444.05 618.97,440.09 620.41,443.82" fill="#1a1a1a" stroke="none"/>
<text transform="translate(630.7 430.1) rotate(-21.2)" y="3.38" font-size="9.4" text-anchor="middle" textLength="20.84" lengthAdjust="spacingAndGlyphs">Ø200</text>
<line x1="406.4" y1="462.2" x2="513.3" y2="410.3" stroke-width="1.15"/>
<polygon points="420.42,454.84 416.07,459.17 414.33,455.57" fill="#1a1a1a" stroke="none"/>
<polygon points="490.58,420.76 494.93,416.43 496.67,420.03" fill="#1a1a1a" stroke="none"/>
<text transform="translate(505.2 406.6) rotate(-25.9)" y="3.38" font-size="9.4" text-anchor="middle" textLength="15.99" lengthAdjust="spacingAndGlyphs">Ø45</text>
<line x1="413" y1="620.4" x2="491.9" y2="533.7" stroke-width="1.15"/>
<polygon points="429.25,601.85 426.83,607.48 423.87,604.79" fill="#1a1a1a" stroke="none"/>
<polygon points="481.75,544.15 484.17,538.52 487.13,541.21" fill="#1a1a1a" stroke="none"/>
<text transform="translate(413.6 609.6) rotate(-47.7)" y="3.38" font-size="9.4" text-anchor="middle" textLength="15.99" lengthAdjust="spacingAndGlyphs">Ø45</text>
<line x1="455.5" y1="336.2" x2="503.4" y2="336.2" stroke-width="1.15"/>
<line x1="455.5" y1="399.6" x2="503.4" y2="399.6" stroke-width="1.15"/>
<line x1="502.2" y1="336.2" x2="502.2" y2="399.6" stroke-width="1.15"/>
<polygon points="502.2,337 504.2,342.8 500.2,342.8" fill="#1a1a1a" stroke="none"/>
<polygon points="502.2,398.8 500.2,393 504.2,393" fill="#1a1a1a" stroke="none"/>
<text transform="translate(495.9 367.8) rotate(-90)" y="3.38" font-size="9.4" text-anchor="middle" textLength="17.24" lengthAdjust="spacingAndGlyphs">37,5</text>
<line x1="403.6" y1="476" x2="455.5" y2="476" stroke-width="1.15"/>
<line x1="403.1" y1="535.3" x2="455.5" y2="535.3" stroke-width="1.15"/>
<line x1="404.6" y1="476" x2="404.6" y2="535.3" stroke-width="1.15"/>
<polygon points="404.6,476.8 406.6,482.6 402.6,482.6" fill="#1a1a1a" stroke="none"/>
<polygon points="404.6,534.5 402.6,528.7 406.6,528.7" fill="#1a1a1a" stroke="none"/>
<text transform="translate(398 505.6) rotate(-90)" y="3.38" font-size="9.4" text-anchor="middle" textLength="9.7" lengthAdjust="spacingAndGlyphs">35</text>
<line x1="455.5" y1="610.9" x2="502" y2="610.9" stroke-width="1.15"/>
<line x1="455.5" y1="675" x2="502" y2="675" stroke-width="1.15"/>
<line x1="500.4" y1="610.9" x2="500.4" y2="675" stroke-width="1.15"/>
<polygon points="500.4,611.7 502.4,617.5 498.4,617.5" fill="#1a1a1a" stroke="none"/>
<polygon points="500.4,674.2 498.4,668.4 502.4,668.4" fill="#1a1a1a" stroke="none"/>
<text transform="translate(506.3 642.7) rotate(-90)" y="3.38" font-size="9.4" text-anchor="middle" textLength="17.24" lengthAdjust="spacingAndGlyphs">37,5</text>
<path d="M447.4 548.2V527.2Q447.6 525.2 451.2 524H459.8Q463.4 525.2 463.6 527.2V548.2" stroke-width="1.05" fill="none"/>
<line x1="447.4" y1="527.5" x2="463.6" y2="527.5" stroke-width="1"/>
<line x1="447.4" y1="547.2" x2="463.6" y2="547.2" stroke-width="1.15"/>
<polygon points="448.2,547.2 453.6,545.5 453.6,548.9" fill="#1a1a1a" stroke="none"/>
<polygon points="462.8,547.2 457.4,548.9 457.4,545.5" fill="#1a1a1a" stroke="none"/>
<text x="455.6" y="558.6" font-size="9.4" text-anchor="middle" textLength="18.68" lengthAdjust="spacingAndGlyphs">Ø9,8</text>
<line x1="430.4" y1="523.9" x2="452" y2="523.9" stroke-width="1.15"/>
<line x1="432" y1="523.9" x2="432" y2="535.3" stroke-width="1.15"/>
<polygon points="432,524.3 433.6,528.9 430.4,528.9" fill="#1a1a1a" stroke="none"/>
<polygon points="432,534.9 430.4,530.3 433.6,530.3" fill="#1a1a1a" stroke="none"/>
<text transform="translate(426.6 529.6) rotate(-90)" y="3.38" font-size="9.4" text-anchor="middle" textLength="4.85" lengthAdjust="spacingAndGlyphs">7</text>
<text x="455.7" y="523.4" font-size="7" text-anchor="middle" class="b">38°</text>
<g transform="translate(455.5 437.8) rotate(-45)">
<line x1="8.5" y1="-37.3" x2="8.5" y2="-80.5" stroke-width="1.15"/>
<line x1="-8.5" y1="-37.3" x2="-8.5" y2="-80.5" stroke-width="1.15"/>
<line x1="-8.5" y1="-63.6" x2="8.5" y2="-63.6" stroke-width="1"/>
<path d="M-8.5 -63.6V-67.6Q-3 -70.8 8.5 -65.3" stroke-width="1" fill="none"/>
<path d="M-6.8 -63.6V-66.6Q-2.5 -69.2 6 -65.6" stroke-width="0.7" fill="none"/>
<line x1="-8.5" y1="-79" x2="8.5" y2="-79" stroke-width="1.15"/>
<line x1="-8.5" y1="-68" x2="-19.5" y2="-68" stroke-width="1.15"/>
<line x1="-8.5" y1="-37.6" x2="-19.5" y2="-37.6" stroke-width="1.15"/>
<line x1="-18" y1="-68" x2="-18" y2="-37.6" stroke-width="1.15"/>
</g>
<polygon points="394.19,387.38 396.67,381.94 399.64,384.91" fill="#1a1a1a" stroke="none"/>
<polygon points="405.08,376.49 402.61,381.94 399.64,378.97" fill="#1a1a1a" stroke="none"/>
<polygon points="395.25,403.01 400.7,405.49 397.73,408.46" fill="#1a1a1a" stroke="none"/>
<polygon points="415.62,423.38 410.17,420.9 413.14,417.93" fill="#1a1a1a" stroke="none"/>
<text transform="translate(394.2 376.6) rotate(-45)" y="3.38" font-size="9.4" text-anchor="middle" textLength="18.68" lengthAdjust="spacingAndGlyphs">Ø9,8</text>
<text transform="translate(456.4 386.4)" y="2.81" font-size="7.8" text-anchor="middle" class="b" textLength="14" lengthAdjust="spacingAndGlyphs">OFF</text>
<text transform="translate(404.4 438.3)" y="2.74" font-size="7.6" text-anchor="middle" class="b">1</text>
<text transform="translate(506.5 437.9)" y="2.74" font-size="7.6" text-anchor="middle" class="b">2</text>
<text transform="translate(399 573.5)" y="2.95" font-size="8.2" text-anchor="middle" class="b" textLength="14.4" lengthAdjust="spacingAndGlyphs">HOT</text>
<text transform="translate(514.2 574.7)" y="2.95" font-size="8.2" text-anchor="middle" class="b" textLength="19.8" lengthAdjust="spacingAndGlyphs">COLD</text>
<text transform="translate(455.3 573.5)" y="1.87" font-size="5.2" text-anchor="middle" class="b" fill="#111" textLength="22.9" lengthAdjust="spacingAndGlyphs">OMNIRES</text>
<!-- wall elbow -->
<line x1="116.6" y1="646" x2="116.6" y2="770.2" stroke-width="1.2"/>
<line x1="210.7" y1="646" x2="210.7" y2="685.3" stroke-width="1.15"/>
<line x1="116.6" y1="647.9" x2="210.7" y2="647.9" stroke-width="1.15"/>
<polygon points="117.4,647.9 123.2,645.9 123.2,649.9" fill="#1a1a1a" stroke="none"/>
<polygon points="209.9,647.9 204.1,649.9 204.1,645.9" fill="#1a1a1a" stroke="none"/>
<text x="163.8" y="644" font-size="10" text-anchor="middle" textLength="10.32" lengthAdjust="spacingAndGlyphs">70</text>
<path d="M116.6 660.4H127.1Q128.1 660.4 128.1 661.4V733.7Q128.1 734.7 127.1 734.7H116.6" stroke-width="1.2" fill="none"/>
<line x1="62.3" y1="660.4" x2="116.6" y2="660.4" stroke-width="1.15"/>
<line x1="62.3" y1="734.7" x2="116.6" y2="734.7" stroke-width="1.15"/>
<line x1="64.5" y1="660.4" x2="64.5" y2="734.7" stroke-width="1.15"/>
<polygon points="64.5,661.2 66.5,667 62.5,667" fill="#1a1a1a" stroke="none"/>
<polygon points="64.5,733.9 62.5,728.1 66.5,728.1" fill="#1a1a1a" stroke="none"/>
<text transform="translate(57.9 697.4) rotate(-90)" y="3.6" font-size="10" text-anchor="middle" textLength="17.01" lengthAdjust="spacingAndGlyphs">Ø60</text>
<line x1="77.5" y1="685" x2="95.6" y2="685" stroke-width="1.15"/>
<line x1="77.5" y1="710.2" x2="95.6" y2="710.2" stroke-width="1.15"/>
<line x1="79.5" y1="685" x2="79.5" y2="710.2" stroke-width="1.15"/>
<polygon points="79.5,685.8 81.5,691.6 77.5,691.6" fill="#1a1a1a" stroke="none"/>
<polygon points="79.5,709.4 77.5,703.6 81.5,703.6" fill="#1a1a1a" stroke="none"/>
<text transform="translate(72.9 697.4) rotate(-90)" y="3.6" font-size="10" text-anchor="middle" textLength="20.23" lengthAdjust="spacingAndGlyphs">G1/2</text>
<rect x="95.5" y="685" width="18.3" height="25.2" rx="1.2" stroke-width="1.2" fill="none"/>
<line x1="97.3" y1="685.4" x2="98.9" y2="709.8" stroke-width="0.9"/>
<line x1="99.8" y1="685.4" x2="101.4" y2="709.8" stroke-width="0.9"/>
<line x1="102.3" y1="685.4" x2="103.9" y2="709.8" stroke-width="0.9"/>
<line x1="104.8" y1="685.4" x2="106.4" y2="709.8" stroke-width="0.9"/>
<line x1="107.3" y1="685.4" x2="108.9" y2="709.8" stroke-width="0.9"/>
<line x1="109.8" y1="685.4" x2="111.4" y2="709.8" stroke-width="0.9"/>
<line x1="112.3" y1="685.4" x2="113.9" y2="709.8" stroke-width="0.9"/>
<path d="M113.8 686H116.6M113.8 708.8H116.6" stroke-width="1" fill="none"/>
<line x1="115.2" y1="686" x2="115.2" y2="708.8" stroke-width="0.9"/>
<line x1="91.4" y1="697.6" x2="215.1" y2="697.6" stroke-width="1" stroke-dasharray="28 1.2 1.4 1.2"/>
<path d="M128.1 676.9H171.5Q173.4 676.9 173.6 678.6Q174.4 685.3 181 685.3H210.7V709.8H181Q174.6 709.8 173.8 716.5Q173.6 718.2 172.6 718.4" stroke-width="1.2" fill="none"/>
<path d="M128.1 718.4H145.5" stroke-width="1.2" fill="none"/>
<path d="M145.5 735.1V719.5C147 714.5 152.5 712.4 158.2 712.4C163.8 712.4 169.3 714.5 170.8 719.5V735.1" stroke-width="1.2" fill="none"/>
<rect x="145.5" y="725.4" width="25.3" height="9.7" rx="0" stroke-width="1.1" fill="none"/>
<line x1="145.5" y1="729.3" x2="170.8" y2="727.5" stroke-width="0.9"/>
<line x1="145.5" y1="731.7" x2="170.8" y2="729.9" stroke-width="0.9"/>
<line x1="145.5" y1="734.1" x2="170.8" y2="732.3" stroke-width="0.9"/>
<line x1="197.7" y1="679.3" x2="197.7" y2="715.8" stroke-width="1"/>
<line x1="157.9" y1="705.2" x2="157.9" y2="747.7" stroke-width="0.9"/>
<line x1="116.6" y1="745.3" x2="157.9" y2="745.3" stroke-width="1.15"/>
<polygon points="117.4,745.3 123.2,743.3 123.2,747.3" fill="#1a1a1a" stroke="none"/>
<polygon points="157.1,745.3 151.3,747.3 151.3,743.3" fill="#1a1a1a" stroke="none"/>
<text x="137.4" y="755.6" font-size="10" text-anchor="middle" textLength="10.32" lengthAdjust="spacingAndGlyphs">34</text>
<line x1="145.5" y1="735.1" x2="145.5" y2="755.7" stroke-width="1.15"/>
<line x1="170.8" y1="735.1" x2="170.8" y2="755.7" stroke-width="1.15"/>
<line x1="145.5" y1="754.3" x2="170.8" y2="754.3" stroke-width="1.15"/>
<polygon points="146.3,754.3 152.1,752.3 152.1,756.3" fill="#1a1a1a" stroke="none"/>
<polygon points="170,754.3 164.2,756.3 164.2,752.3" fill="#1a1a1a" stroke="none"/>
<text x="158.2" y="764.6" font-size="10" text-anchor="middle" textLength="20.23" lengthAdjust="spacingAndGlyphs">G1/2</text>
<line x1="95.5" y1="710.2" x2="95.5" y2="770.2" stroke-width="1.15"/>
<line x1="95.5" y1="769.3" x2="116.6" y2="769.3" stroke-width="1.15"/>
<polygon points="96.3,769.3 102.1,767.3 102.1,771.3" fill="#1a1a1a" stroke="none"/>
<polygon points="115.8,769.3 110,771.3 110,767.3" fill="#1a1a1a" stroke="none"/>
<text x="106.3" y="780.6" font-size="10" text-anchor="middle" textLength="10.32" lengthAdjust="spacingAndGlyphs">17</text>
<!-- hose -->
<line x1="342.2" y1="713.5" x2="342.2" y2="728.5" stroke-width="1.15"/>
<line x1="568.8" y1="713.3" x2="568.8" y2="727.3" stroke-width="1.15"/>
<line x1="342.2" y1="717.1" x2="568.8" y2="717.1" stroke-width="1.15"/>
<polygon points="343,717.1 348.8,715.1 348.8,719.1" fill="#1a1a1a" stroke="none"/>
<polygon points="568,717.1 562.2,719.1 562.2,715.1" fill="#1a1a1a" stroke="none"/>
<text x="455.9" y="713.8" font-size="10" text-anchor="middle" textLength="20.64" lengthAdjust="spacingAndGlyphs">1500</text>
<rect x="341.9" y="728.4" width="17.1" height="31.1" rx="1.8" stroke-width="1.2" fill="#808080"/>
<line x1="342.4" y1="732.29" x2="358.6" y2="732.29" stroke-width="1" stroke="#444"/>
<line x1="342.4" y1="736.17" x2="358.6" y2="736.17" stroke-width="1" stroke="#444"/>
<line x1="342.4" y1="740.06" x2="358.6" y2="740.06" stroke-width="1" stroke="#444"/>
<line x1="342.4" y1="743.95" x2="358.6" y2="743.95" stroke-width="1" stroke="#444"/>
<line x1="342.4" y1="747.84" x2="358.6" y2="747.84" stroke-width="1" stroke="#444"/>
<line x1="342.4" y1="751.73" x2="358.6" y2="751.73" stroke-width="1" stroke="#444"/>
<line x1="342.4" y1="755.61" x2="358.6" y2="755.61" stroke-width="1" stroke="#444"/>
<rect x="359" y="731.4" width="25.7" height="25.1" rx="0" stroke-width="1.2" fill="none"/>
<path d="M384.7 733.5H441.9M384.7 754.4H440.3" stroke-width="1.2" fill="none"/>
<path d="M441.9 733.5C442.05 733.8 442.92 734.55 442.8 735.3C442.68 736.05 441.95 737 441.2 738C440.45 739 438.57 740.22 438.3 741.3C438.03 742.38 439.1 743.33 439.6 744.5C440.1 745.67 440.97 747.15 441.3 748.3C441.63 749.45 441.77 750.38 441.6 751.4C441.43 752.42 440.52 753.9 440.3 754.4" stroke-width="1.1" fill="none"/>
<path d="M446.2 733.5C446.32 733.85 447.07 734.82 446.9 735.6C446.73 736.38 445.97 737.25 445.2 738.2C444.43 739.15 442.53 740.25 442.3 741.3C442.07 742.35 443.25 743.33 443.8 744.5C444.35 745.67 445.25 747.15 445.6 748.3C445.95 749.45 446.12 750.38 445.9 751.4C445.68 752.42 444.57 753.9 444.3 754.4" stroke-width="1.1" fill="none"/>
<path d="M446.2 733.5H523.3M444.3 754.4H523.3" stroke-width="1.2" fill="none"/>
<path d="M523.3 730.1L569.5 727.3V760L523.3 758.1Z" stroke-width="1.1" fill="none"/>
<rect x="549.7" y="727.5" width="2.3" height="32.4" rx="1.1" stroke-width="1.1" fill="#fff"/>
<line x1="335.3" y1="744.3" x2="575.8" y2="744.3" stroke-width="1" stroke-dasharray="7 1 1.2 1"/>
<line x1="325.8" y1="728.5" x2="340.5" y2="728.5" stroke-width="1.15"/>
<line x1="325.8" y1="759.4" x2="340.5" y2="759.4" stroke-width="1.15"/>
<line x1="328.2" y1="728.5" x2="328.2" y2="759.4" stroke-width="1.15"/>
<polygon points="328.2,729.3 330.2,735.1 326.2,735.1" fill="#1a1a1a" stroke="none"/>
<polygon points="328.2,758.6 326.2,752.8 330.2,752.8" fill="#1a1a1a" stroke="none"/>
<text transform="translate(321.6 744) rotate(-90)" y="3.6" font-size="10" text-anchor="middle" textLength="20.23" lengthAdjust="spacingAndGlyphs">G1/2</text>
<line x1="570.6" y1="728" x2="585.1" y2="728" stroke-width="1.15"/>
<line x1="570.6" y1="759.2" x2="585.1" y2="759.2" stroke-width="1.15"/>
<line x1="583.5" y1="728" x2="583.5" y2="759.2" stroke-width="1.15"/>
<polygon points="583.5,728.8 585.5,734.6 581.5,734.6" fill="#1a1a1a" stroke="none"/>
<polygon points="583.5,758.4 581.5,752.6 585.5,752.6" fill="#1a1a1a" stroke="none"/>
<text transform="translate(590.2 743.6) rotate(90)" y="3.6" font-size="10" text-anchor="middle" textLength="20.23" lengthAdjust="spacingAndGlyphs">G1/2</text>
</g>
</svg>
</body></html>
